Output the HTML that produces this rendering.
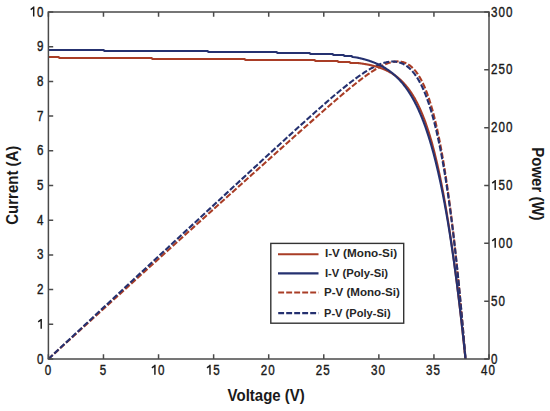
<!DOCTYPE html>
<html><head><meta charset="utf-8"><style>
html,body{margin:0;padding:0;background:#fff;}
svg{display:block;}
text{font-family:"Liberation Sans",sans-serif;}
</style></head><body>
<svg width="550" height="411" viewBox="0 0 550 411">
<rect width="550" height="411" fill="#fff"/>
<g fill="none" stroke-width="2.1" stroke-linejoin="round">
<path d="M48.40,359.00 L53.63,354.23 L58.85,349.46 L64.08,344.69 L69.31,339.93 L74.54,335.16 L79.76,330.40 L84.99,325.64 L90.22,320.88 L95.45,316.13 L100.67,311.37 L105.90,306.62 L111.13,301.87 L116.36,297.12 L121.58,292.37 L126.81,287.63 L132.04,282.88 L137.27,278.14 L142.49,273.40 L147.72,268.66 L152.95,263.93 L158.18,259.19 L163.40,254.46 L168.63,249.73 L173.86,245.00 L179.09,240.27 L184.31,235.55 L189.54,230.83 L194.77,226.10 L200.00,221.38 L205.22,216.67 L210.45,211.95 L215.68,207.24 L220.91,202.53 L226.13,197.82 L231.36,193.11 L236.59,188.40 L241.82,183.70 L247.04,179.00 L252.27,174.30 L257.50,169.60 L262.73,164.91 L267.95,160.22 L273.18,155.53 L278.41,150.84 L283.64,146.16 L288.86,141.49 L294.09,136.82 L299.32,132.15 L304.55,127.50 L309.77,122.86 L315.00,118.23 L320.23,113.62 L325.46,109.04 L330.68,104.48 L335.91,99.97 L341.14,95.50 L346.37,91.11 L351.59,86.81 L356.82,82.63 L357.24,82.30 L357.66,81.97 L358.08,81.64 L358.50,81.32 L358.92,80.99 L359.34,80.67 L359.76,80.34 L360.18,80.02 L360.59,79.70 L361.01,79.38 L361.43,79.06 L361.85,78.75 L362.27,78.43 L362.69,78.12 L363.11,77.80 L363.53,77.49 L363.95,77.18 L364.37,76.87 L364.79,76.57 L365.21,76.26 L365.63,75.96 L366.05,75.66 L366.47,75.35 L366.89,75.06 L367.31,74.76 L367.72,74.46 L368.14,74.17 L368.56,73.88 L368.98,73.59 L369.40,73.30 L369.82,73.01 L370.24,72.73 L370.66,72.44 L371.08,72.16 L371.50,71.88 L371.92,71.61 L372.34,71.33 L372.76,71.06 L373.18,70.79 L373.60,70.53 L374.02,70.26 L374.44,70.00 L374.86,69.74 L375.27,69.48 L375.69,69.23 L376.11,68.97 L376.53,68.72 L376.95,68.48 L377.37,68.23 L377.79,67.99 L378.21,67.76 L378.63,67.52 L379.05,67.29 L379.47,67.06 L379.89,66.83 L380.31,66.61 L380.73,66.39 L381.15,66.18 L381.57,65.97 L381.99,65.76 L382.40,65.55 L382.82,65.35 L383.24,65.16 L383.66,64.96 L384.08,64.77 L384.50,64.59 L384.92,64.41 L385.34,64.23 L385.76,64.06 L386.18,63.89 L386.60,63.73 L387.02,63.57 L387.44,63.41 L387.86,63.27 L388.28,63.12 L388.70,62.98 L389.12,62.85 L389.53,62.72 L389.95,62.59 L390.37,62.48 L390.79,62.36 L391.21,62.26 L391.63,62.16 L392.05,62.06 L392.47,61.97 L392.89,61.89 L393.31,61.81 L393.73,61.74 L394.15,61.68 L394.57,61.62 L394.99,61.57 L395.41,61.53 L395.83,61.49 L396.25,61.46 L396.67,61.44 L397.08,61.43 L397.50,61.42 L397.92,61.42 L398.34,61.43 L398.76,61.45 L399.18,61.48 L399.60,61.51 L400.02,61.56 L400.44,61.61 L400.86,61.67 L401.28,61.74 L401.70,61.82 L402.12,61.91 L402.54,62.01 L402.96,62.12 L403.38,62.24 L403.80,62.37 L404.21,62.51 L404.63,62.66 L405.05,62.82 L405.47,62.99 L405.89,63.18 L406.31,63.38 L406.73,63.58 L407.15,63.80 L407.57,64.04 L407.99,64.28 L408.41,64.54 L408.83,64.81 L409.25,65.09 L409.67,65.39 L410.09,65.70 L410.51,66.03 L410.93,66.37 L411.34,66.72 L411.76,67.09 L412.18,67.47 L412.60,67.87 L413.02,68.29 L413.44,68.72 L413.86,69.16 L414.28,69.63 L414.70,70.11 L415.12,70.60 L415.54,71.12 L415.96,71.65 L416.38,72.20 L416.80,72.77 L417.22,73.35 L417.64,73.96 L418.06,74.58 L418.47,75.22 L418.89,75.89 L419.31,76.57 L419.73,77.27 L420.15,78.00 L420.57,78.74 L420.99,79.51 L421.41,80.30 L421.83,81.11 L422.25,81.95 L422.67,82.80 L423.09,83.68 L423.51,84.59 L423.93,85.51 L424.35,86.46 L424.77,87.44 L425.19,88.44 L425.61,89.47 L426.02,90.52 L426.44,91.60 L426.86,92.70 L427.28,93.84 L427.70,95.00 L428.12,96.18 L428.54,97.40 L428.96,98.64 L429.38,99.91 L429.80,101.22 L430.22,102.55 L430.64,103.91 L431.06,105.30 L431.48,106.72 L431.90,108.18 L432.32,109.66 L432.74,111.18 L433.15,112.73 L433.57,114.32 L433.99,115.93 L434.41,117.58 L434.83,119.27 L435.25,120.98 L435.67,122.74 L436.09,124.53 L436.51,126.35 L436.93,128.21 L437.35,130.11 L437.77,132.04 L438.19,134.01 L438.61,136.02 L439.03,138.07 L439.45,140.16 L439.87,142.28 L440.28,144.44 L440.70,146.65 L441.12,148.89 L441.54,151.17 L441.96,153.50 L442.38,155.86 L442.80,158.27 L443.22,160.72 L443.64,163.21 L444.06,165.75 L444.48,168.33 L444.90,170.95 L445.32,173.61 L445.74,176.32 L446.16,179.08 L446.58,181.87 L447.00,184.72 L447.41,187.61 L447.83,190.54 L448.25,193.52 L448.67,196.55 L449.09,199.63 L449.51,202.75 L449.93,205.92 L450.35,209.14 L450.77,212.40 L451.19,215.72 L451.61,219.08 L452.03,222.49 L452.45,225.95 L452.87,229.46 L453.29,233.02 L453.71,236.63 L454.13,240.30 L454.55,244.01 L454.96,247.77 L455.38,251.59 L455.80,255.45 L456.22,259.37 L456.64,263.34 L457.06,267.36 L457.48,271.43 L457.90,275.56 L458.32,279.73 L458.74,283.97 L459.16,288.25 L459.58,292.59 L460.00,296.98 L460.42,301.42 L460.84,305.92 L461.26,310.48 L461.68,315.08 L462.09,319.74 L462.51,324.46 L462.93,329.23 L463.35,334.05 L463.77,338.93 L464.19,343.87 L464.61,348.86 L465.03,353.90 L465.45,359.00" stroke="#a93d26" stroke-dasharray="5.9,2.1"/>
<path d="M48.40,359.00 L53.63,354.11 L58.85,349.22 L64.08,344.34 L69.31,339.45 L74.54,334.57 L79.76,329.69 L84.99,324.81 L90.22,319.93 L95.45,315.05 L100.67,310.18 L105.90,305.30 L111.13,300.43 L116.36,295.56 L121.58,290.69 L126.81,285.82 L132.04,280.95 L137.27,276.09 L142.49,271.23 L147.72,266.36 L152.95,261.50 L158.18,256.64 L163.40,251.79 L168.63,246.93 L173.86,242.08 L179.09,237.22 L184.31,232.37 L189.54,227.52 L194.77,222.68 L200.00,217.83 L205.22,212.99 L210.45,208.14 L215.68,203.30 L220.91,198.46 L226.13,193.63 L231.36,188.79 L236.59,183.96 L241.82,179.13 L247.04,174.31 L252.27,169.48 L257.50,164.66 L262.73,159.85 L267.95,155.04 L273.18,150.24 L278.41,145.44 L283.64,140.66 L288.86,135.88 L294.09,131.12 L299.32,126.38 L304.55,121.66 L309.77,116.96 L315.00,112.29 L320.23,107.67 L325.46,103.09 L330.68,98.58 L335.91,94.14 L341.14,89.80 L346.37,85.59 L351.59,81.52 L356.82,77.64 L357.24,77.34 L357.66,77.04 L358.08,76.74 L358.50,76.44 L358.92,76.15 L359.34,75.85 L359.76,75.56 L360.18,75.27 L360.60,74.98 L361.02,74.69 L361.44,74.41 L361.86,74.13 L362.28,73.84 L362.70,73.57 L363.12,73.29 L363.54,73.01 L363.96,72.74 L364.38,72.47 L364.79,72.20 L365.21,71.93 L365.63,71.66 L366.05,71.40 L366.47,71.14 L366.89,70.88 L367.31,70.63 L367.73,70.37 L368.15,70.12 L368.57,69.87 L368.99,69.63 L369.41,69.38 L369.83,69.14 L370.25,68.90 L370.67,68.67 L371.09,68.43 L371.51,68.20 L371.93,67.97 L372.35,67.75 L372.77,67.53 L373.19,67.31 L373.61,67.09 L374.03,66.88 L374.45,66.67 L374.87,66.46 L375.29,66.26 L375.71,66.06 L376.13,65.86 L376.55,65.67 L376.97,65.48 L377.39,65.29 L377.81,65.11 L378.23,64.93 L378.65,64.75 L379.07,64.58 L379.49,64.42 L379.91,64.25 L380.32,64.09 L380.74,63.94 L381.16,63.78 L381.58,63.64 L382.00,63.49 L382.42,63.36 L382.84,63.22 L383.26,63.09 L383.68,62.97 L384.10,62.85 L384.52,62.73 L384.94,62.62 L385.36,62.51 L385.78,62.41 L386.20,62.32 L386.62,62.22 L387.04,62.14 L387.46,62.06 L387.88,61.98 L388.30,61.92 L388.72,61.85 L389.14,61.79 L389.56,61.74 L389.98,61.70 L390.40,61.66 L390.82,61.62 L391.24,61.60 L391.66,61.57 L392.08,61.56 L392.50,61.55 L392.92,61.55 L393.34,61.55 L393.76,61.57 L394.18,61.59 L394.60,61.61 L395.02,61.65 L395.44,61.69 L395.85,61.74 L396.27,61.79 L396.69,61.86 L397.11,61.93 L397.53,62.01 L397.95,62.10 L398.37,62.19 L398.79,62.30 L399.21,62.41 L399.63,62.54 L400.05,62.67 L400.47,62.81 L400.89,62.96 L401.31,63.12 L401.73,63.28 L402.15,63.46 L402.57,63.65 L402.99,63.85 L403.41,64.06 L403.83,64.27 L404.25,64.50 L404.67,64.74 L405.09,64.99 L405.51,65.26 L405.93,65.53 L406.35,65.81 L406.77,66.11 L407.19,66.41 L407.61,66.73 L408.03,67.07 L408.45,67.41 L408.87,67.77 L409.29,68.13 L409.71,68.52 L410.13,68.91 L410.55,69.32 L410.97,69.74 L411.38,70.18 L411.80,70.63 L412.22,71.09 L412.64,71.57 L413.06,72.06 L413.48,72.57 L413.90,73.09 L414.32,73.63 L414.74,74.19 L415.16,74.76 L415.58,75.34 L416.00,75.95 L416.42,76.56 L416.84,77.20 L417.26,77.85 L417.68,78.52 L418.10,79.21 L418.52,79.92 L418.94,80.64 L419.36,81.39 L419.78,82.15 L420.20,82.93 L420.62,83.73 L421.04,84.55 L421.46,85.39 L421.88,86.25 L422.30,87.13 L422.72,88.03 L423.14,88.95 L423.56,89.89 L423.98,90.86 L424.40,91.84 L424.82,92.85 L425.24,93.89 L425.66,94.94 L426.08,96.02 L426.50,97.12 L426.91,98.25 L427.33,99.40 L427.75,100.57 L428.17,101.78 L428.59,103.00 L429.01,104.25 L429.43,105.53 L429.85,106.83 L430.27,108.17 L430.69,109.52 L431.11,110.91 L431.53,112.32 L431.95,113.76 L432.37,115.24 L432.79,116.74 L433.21,118.26 L433.63,119.82 L434.05,121.41 L434.47,123.03 L434.89,124.68 L435.31,126.37 L435.73,128.08 L436.15,129.83 L436.57,131.61 L436.99,133.42 L437.41,135.27 L437.83,137.15 L438.25,139.06 L438.67,141.01 L439.09,142.99 L439.51,145.01 L439.93,147.07 L440.35,149.16 L440.77,151.29 L441.19,153.46 L441.61,155.66 L442.03,157.91 L442.44,160.19 L442.86,162.51 L443.28,164.87 L443.70,167.27 L444.12,169.71 L444.54,172.19 L444.96,174.72 L445.38,177.28 L445.80,179.89 L446.22,182.54 L446.64,185.24 L447.06,187.98 L447.48,190.76 L447.90,193.59 L448.32,196.46 L448.74,199.38 L449.16,202.34 L449.58,205.35 L450.00,208.41 L450.42,211.51 L450.84,214.67 L451.26,217.87 L451.68,221.12 L452.10,224.42 L452.52,227.77 L452.94,231.17 L453.36,234.62 L453.78,238.13 L454.20,241.68 L454.62,245.29 L455.04,248.95 L455.46,252.66 L455.88,256.43 L456.30,260.25 L456.72,264.13 L457.14,268.06 L457.56,272.05 L457.97,276.09 L458.39,280.19 L458.81,284.35 L459.23,288.56 L459.65,292.84 L460.07,297.17 L460.49,301.56 L460.91,306.01 L461.33,310.52 L461.75,315.09 L462.17,319.72 L462.59,324.41 L463.01,329.16 L463.43,333.98 L463.85,338.85 L464.27,343.80 L464.69,348.80 L465.11,353.87 L465.53,359.00" stroke="#253170" stroke-dasharray="5.9,2.1"/>
<path d="M48.40,57.00 L58.20,57.00 L59.80,58.00 L151.20,58.00 L152.80,59.00 L244.20,59.00 L245.80,60.00 L314.20,60.00 L315.80,61.00 L337.20,61.00 L338.80,62.00 L349.20,62.00 L350.80,63.00 L358.08,63.04 L358.50,63.09 L358.92,63.14 L359.34,63.20 L359.76,63.25 L360.18,63.31 L360.59,63.37 L361.01,63.43 L361.43,63.49 L361.85,63.55 L362.27,63.61 L362.69,63.68 L363.11,63.74 L363.53,63.81 L363.95,63.88 L364.37,63.94 L364.79,64.02 L365.21,64.09 L365.63,64.16 L366.05,64.24 L366.47,64.31 L366.89,64.39 L367.31,64.47 L367.72,64.55 L368.14,64.63 L368.56,64.72 L368.98,64.80 L369.40,64.89 L369.82,64.98 L370.24,65.07 L370.66,65.16 L371.08,65.26 L371.50,65.35 L371.92,65.45 L372.34,65.55 L372.76,65.65 L373.18,65.76 L373.60,65.87 L374.02,65.97 L374.44,66.09 L374.86,66.20 L375.27,66.31 L375.69,66.43 L376.11,66.55 L376.53,66.67 L376.95,66.80 L377.37,66.93 L377.79,67.06 L378.21,67.19 L378.63,67.33 L379.05,67.46 L379.47,67.61 L379.89,67.75 L380.31,67.90 L380.73,68.05 L381.15,68.20 L381.57,68.35 L381.99,68.51 L382.40,68.68 L382.82,68.84 L383.24,69.01 L383.66,69.18 L384.08,69.36 L384.50,69.54 L384.92,69.72 L385.34,69.91 L385.76,70.10 L386.18,70.29 L386.60,70.49 L387.02,70.69 L387.44,70.90 L387.86,71.11 L388.28,71.33 L388.70,71.55 L389.12,71.77 L389.53,72.00 L389.95,72.23 L390.37,72.47 L390.79,72.71 L391.21,72.96 L391.63,73.21 L392.05,73.47 L392.47,73.73 L392.89,74.00 L393.31,74.27 L393.73,74.55 L394.15,74.83 L394.57,75.12 L394.99,75.42 L395.41,75.72 L395.83,76.03 L396.25,76.34 L396.67,76.66 L397.08,76.99 L397.50,77.32 L397.92,77.66 L398.34,78.01 L398.76,78.36 L399.18,78.72 L399.60,79.09 L400.02,79.46 L400.44,79.85 L400.86,80.24 L401.28,80.63 L401.70,81.04 L402.12,81.45 L402.54,81.87 L402.96,82.30 L403.38,82.74 L403.80,83.19 L404.21,83.64 L404.63,84.11 L405.05,84.58 L405.47,85.06 L405.89,85.56 L406.31,86.06 L406.73,86.57 L407.15,87.09 L407.57,87.62 L407.99,88.16 L408.41,88.72 L408.83,89.28 L409.25,89.85 L409.67,90.44 L410.09,91.03 L410.51,91.64 L410.93,92.26 L411.34,92.89 L411.76,93.53 L412.18,94.19 L412.60,94.85 L413.02,95.53 L413.44,96.22 L413.86,96.93 L414.28,97.65 L414.70,98.38 L415.12,99.13 L415.54,99.89 L415.96,100.66 L416.38,101.45 L416.80,102.25 L417.22,103.07 L417.64,103.90 L418.06,104.75 L418.47,105.61 L418.89,106.49 L419.31,107.38 L419.73,108.29 L420.15,109.22 L420.57,110.16 L420.99,111.12 L421.41,112.10 L421.83,113.10 L422.25,114.11 L422.67,115.14 L423.09,116.19 L423.51,117.26 L423.93,118.34 L424.35,119.45 L424.77,120.57 L425.19,121.71 L425.61,122.88 L426.02,124.06 L426.44,125.26 L426.86,126.49 L427.28,127.73 L427.70,129.00 L428.12,130.29 L428.54,131.59 L428.96,132.93 L429.38,134.28 L429.80,135.65 L430.22,137.05 L430.64,138.47 L431.06,139.91 L431.48,141.38 L431.90,142.87 L432.32,144.39 L432.74,145.93 L433.15,147.49 L433.57,149.08 L433.99,150.69 L434.41,152.33 L434.83,154.00 L435.25,155.69 L435.67,157.40 L436.09,159.15 L436.51,160.91 L436.93,162.71 L437.35,164.53 L437.77,166.39 L438.19,168.26 L438.61,170.17 L439.03,172.10 L439.45,174.07 L439.87,176.06 L440.28,178.08 L440.70,180.13 L441.12,182.21 L441.54,184.32 L441.96,186.45 L442.38,188.62 L442.80,190.82 L443.22,193.05 L443.64,195.31 L444.06,197.60 L444.48,199.92 L444.90,202.27 L445.32,204.66 L445.74,207.07 L446.16,209.52 L446.58,212.00 L447.00,214.51 L447.41,217.06 L447.83,219.64 L448.25,222.25 L448.67,224.89 L449.09,227.57 L449.51,230.28 L449.93,233.02 L450.35,235.79 L450.77,238.61 L451.19,241.45 L451.61,244.33 L452.03,247.24 L452.45,250.19 L452.87,253.17 L453.29,256.18 L453.71,259.23 L454.13,262.32 L454.55,265.44 L454.96,268.59 L455.38,271.78 L455.80,275.01 L456.22,278.27 L456.64,281.57 L457.06,284.90 L457.48,288.26 L457.90,291.66 L458.32,295.10 L458.74,298.57 L459.16,302.08 L459.58,305.63 L460.00,309.21 L460.42,312.82 L460.84,316.47 L461.26,320.16 L461.68,323.88 L462.09,327.64 L462.51,331.44 L462.93,335.27 L463.35,339.13 L463.77,343.04 L464.19,346.97 L464.61,350.95 L465.03,354.96 L465.45,359.00" stroke="#a93d26"/>
<path d="M48.40,50.00 L103.20,50.00 L104.80,51.00 L207.20,51.00 L208.80,52.00 L276.20,52.00 L277.80,53.00 L309.20,53.00 L310.80,54.00 L332.20,54.00 L333.80,55.00 L343.20,55.00 L344.80,56.00 L351.20,56.00 L352.80,57.00 L356.82,57.54 L357.24,57.63 L357.66,57.72 L358.08,57.81 L358.50,57.90 L358.92,57.99 L359.34,58.09 L359.76,58.18 L360.18,58.28 L360.60,58.38 L361.02,58.48 L361.44,58.58 L361.86,58.68 L362.28,58.79 L362.70,58.89 L363.12,59.00 L363.54,59.11 L363.96,59.23 L364.38,59.34 L364.79,59.46 L365.21,59.57 L365.63,59.69 L366.05,59.82 L366.47,59.94 L366.89,60.07 L367.31,60.19 L367.73,60.32 L368.15,60.46 L368.57,60.59 L368.99,60.73 L369.41,60.87 L369.83,61.01 L370.25,61.15 L370.67,61.30 L371.09,61.44 L371.51,61.60 L371.93,61.75 L372.35,61.90 L372.77,62.06 L373.19,62.22 L373.61,62.39 L374.03,62.55 L374.45,62.72 L374.87,62.89 L375.29,63.07 L375.71,63.25 L376.13,63.43 L376.55,63.61 L376.97,63.80 L377.39,63.99 L377.81,64.18 L378.23,64.37 L378.65,64.57 L379.07,64.78 L379.49,64.98 L379.91,65.19 L380.32,65.40 L380.74,65.62 L381.16,65.84 L381.58,66.06 L382.00,66.29 L382.42,66.52 L382.84,66.75 L383.26,66.99 L383.68,67.23 L384.10,67.48 L384.52,67.73 L384.94,67.98 L385.36,68.24 L385.78,68.50 L386.20,68.77 L386.62,69.04 L387.04,69.32 L387.46,69.60 L387.88,69.89 L388.30,70.17 L388.72,70.47 L389.14,70.77 L389.56,71.07 L389.98,71.38 L390.40,71.70 L390.82,72.02 L391.24,72.34 L391.66,72.67 L392.08,73.01 L392.50,73.35 L392.92,73.69 L393.34,74.05 L393.76,74.40 L394.18,74.77 L394.60,75.14 L395.02,75.51 L395.44,75.90 L395.85,76.29 L396.27,76.68 L396.69,77.08 L397.11,77.49 L397.53,77.90 L397.95,78.32 L398.37,78.75 L398.79,79.19 L399.21,79.63 L399.63,80.08 L400.05,80.53 L400.47,81.00 L400.89,81.47 L401.31,81.95 L401.73,82.43 L402.15,82.93 L402.57,83.43 L402.99,83.94 L403.41,84.46 L403.83,84.99 L404.25,85.52 L404.67,86.07 L405.09,86.62 L405.51,87.18 L405.93,87.75 L406.35,88.33 L406.77,88.92 L407.19,89.52 L407.61,90.13 L408.03,90.75 L408.45,91.38 L408.87,92.02 L409.29,92.66 L409.71,93.32 L410.13,93.99 L410.55,94.67 L410.97,95.36 L411.38,96.06 L411.80,96.78 L412.22,97.50 L412.64,98.24 L413.06,98.98 L413.48,99.74 L413.90,100.51 L414.32,101.30 L414.74,102.09 L415.16,102.90 L415.58,103.72 L416.00,104.55 L416.42,105.40 L416.84,106.26 L417.26,107.13 L417.68,108.02 L418.10,108.92 L418.52,109.83 L418.94,110.76 L419.36,111.70 L419.78,112.66 L420.20,113.63 L420.62,114.62 L421.04,115.62 L421.46,116.64 L421.88,117.67 L422.30,118.72 L422.72,119.78 L423.14,120.86 L423.56,121.96 L423.98,123.08 L424.40,124.21 L424.82,125.35 L425.24,126.52 L425.66,127.70 L426.08,128.90 L426.50,130.12 L426.91,131.36 L427.33,132.62 L427.75,133.89 L428.17,135.18 L428.59,136.50 L429.01,137.83 L429.43,139.18 L429.85,140.55 L430.27,141.94 L430.69,143.35 L431.11,144.79 L431.53,146.24 L431.95,147.72 L432.37,149.21 L432.79,150.73 L433.21,152.27 L433.63,153.84 L434.05,155.42 L434.47,157.03 L434.89,158.66 L435.31,160.31 L435.73,161.99 L436.15,163.69 L436.57,165.42 L436.99,167.17 L437.41,168.95 L437.83,170.75 L438.25,172.57 L438.67,174.42 L439.09,176.30 L439.51,178.20 L439.93,180.13 L440.35,182.09 L440.77,184.07 L441.19,186.08 L441.61,188.12 L442.03,190.18 L442.44,192.27 L442.86,194.40 L443.28,196.55 L443.70,198.73 L444.12,200.93 L444.54,203.17 L444.96,205.44 L445.38,207.74 L445.80,210.07 L446.22,212.43 L446.64,214.82 L447.06,217.24 L447.48,219.69 L447.90,222.18 L448.32,224.69 L448.74,227.24 L449.16,229.82 L449.58,232.44 L450.00,235.09 L450.42,237.77 L450.84,240.49 L451.26,243.24 L451.68,246.02 L452.10,248.84 L452.52,251.69 L452.94,254.58 L453.36,257.51 L453.78,260.47 L454.20,263.47 L454.62,266.50 L455.04,269.57 L455.46,272.68 L455.88,275.82 L456.30,279.00 L456.72,282.22 L457.14,285.48 L457.56,288.77 L457.97,292.11 L458.39,295.48 L458.81,298.89 L459.23,302.35 L459.65,305.84 L460.07,309.37 L460.49,312.94 L460.91,316.55 L461.33,320.20 L461.75,323.89 L462.17,327.63 L462.59,331.40 L463.01,335.22 L463.43,339.08 L463.85,342.98 L464.27,346.92 L464.69,350.90 L465.11,354.93 L465.53,359.00" stroke="#253170"/>
</g>
<g fill="none" stroke="#4a4a4a" stroke-width="1.5">
<rect x="48.4" y="12.0" width="440.60" height="347.0"/>
<path d="M48.40,359.0V354.2M48.40,12.0V16.8M103.47,359.0V354.2M103.47,12.0V16.8M158.55,359.0V354.2M158.55,12.0V16.8M213.63,359.0V354.2M213.63,12.0V16.8M268.70,359.0V354.2M268.70,12.0V16.8M323.77,359.0V354.2M323.77,12.0V16.8M378.85,359.0V354.2M378.85,12.0V16.8M433.93,359.0V354.2M433.93,12.0V16.8M489.00,359.0V354.2M489.00,12.0V16.8M48.4,359.00H53.199999999999996M48.4,324.30H53.199999999999996M48.4,289.60H53.199999999999996M48.4,254.90H53.199999999999996M48.4,220.20H53.199999999999996M48.4,185.50H53.199999999999996M48.4,150.80H53.199999999999996M48.4,116.10H53.199999999999996M48.4,81.40H53.199999999999996M48.4,46.70H53.199999999999996M48.4,12.00H53.199999999999996M489.0,359.00H484.2M489.0,301.17H484.2M489.0,243.33H484.2M489.0,185.50H484.2M489.0,127.67H484.2M489.0,69.83H484.2M489.0,12.00H484.2"/>
</g>
<g font-size="14.3" fill="#1a1a1a" stroke="#1a1a1a" stroke-width="0.4"><text transform="translate(40.10,363.50) scale(0.81,1)" text-anchor="middle">0</text><text transform="translate(40.10,294.10) scale(0.81,1)" text-anchor="middle">2</text><text transform="translate(40.10,259.40) scale(0.81,1)" text-anchor="middle">3</text><text transform="translate(40.10,224.70) scale(0.81,1)" text-anchor="middle">4</text><text transform="translate(40.10,190.00) scale(0.81,1)" text-anchor="middle">5</text><text transform="translate(40.10,155.30) scale(0.81,1)" text-anchor="middle">6</text><text transform="translate(40.10,120.60) scale(0.81,1)" text-anchor="middle">7</text><text transform="translate(40.10,85.90) scale(0.81,1)" text-anchor="middle">8</text><text transform="translate(40.10,51.20) scale(0.81,1)" text-anchor="middle">9</text><text transform="translate(40.10,16.50) scale(0.81,1)" text-anchor="middle">0</text><text transform="translate(48.00,374.70) scale(0.81,1)" text-anchor="middle">0</text><text transform="translate(103.07,374.70) scale(0.81,1)" text-anchor="middle">5</text><text transform="translate(161.30,374.70) scale(0.81,1)" text-anchor="middle">0</text><text transform="translate(216.38,374.70) scale(0.81,1)" text-anchor="middle">5</text><text transform="translate(263.95,374.70) scale(0.81,1)" text-anchor="middle">2</text><text transform="translate(271.45,374.70) scale(0.81,1)" text-anchor="middle">0</text><text transform="translate(319.02,374.70) scale(0.81,1)" text-anchor="middle">2</text><text transform="translate(326.52,374.70) scale(0.81,1)" text-anchor="middle">5</text><text transform="translate(374.10,374.70) scale(0.81,1)" text-anchor="middle">3</text><text transform="translate(381.60,374.70) scale(0.81,1)" text-anchor="middle">0</text><text transform="translate(429.18,374.70) scale(0.81,1)" text-anchor="middle">3</text><text transform="translate(436.68,374.70) scale(0.81,1)" text-anchor="middle">5</text><text transform="translate(484.25,374.70) scale(0.81,1)" text-anchor="middle">4</text><text transform="translate(491.75,374.70) scale(0.81,1)" text-anchor="middle">0</text><text transform="translate(494.10,363.50) scale(0.81,1)" text-anchor="middle">0</text><text transform="translate(494.10,305.67) scale(0.81,1)" text-anchor="middle">5</text><text transform="translate(501.60,305.67) scale(0.81,1)" text-anchor="middle">0</text><text transform="translate(501.60,247.83) scale(0.81,1)" text-anchor="middle">0</text><text transform="translate(509.10,247.83) scale(0.81,1)" text-anchor="middle">0</text><text transform="translate(501.60,190.00) scale(0.81,1)" text-anchor="middle">5</text><text transform="translate(509.10,190.00) scale(0.81,1)" text-anchor="middle">0</text><text transform="translate(494.10,132.17) scale(0.81,1)" text-anchor="middle">2</text><text transform="translate(501.60,132.17) scale(0.81,1)" text-anchor="middle">0</text><text transform="translate(509.10,132.17) scale(0.81,1)" text-anchor="middle">0</text><text transform="translate(494.10,74.33) scale(0.81,1)" text-anchor="middle">2</text><text transform="translate(501.60,74.33) scale(0.81,1)" text-anchor="middle">5</text><text transform="translate(509.10,74.33) scale(0.81,1)" text-anchor="middle">0</text><text transform="translate(494.10,16.50) scale(0.81,1)" text-anchor="middle">3</text><text transform="translate(501.60,16.50) scale(0.81,1)" text-anchor="middle">0</text><text transform="translate(509.10,16.50) scale(0.81,1)" text-anchor="middle">0</text></g>
<path d="M41.20,328.80V318.90M41.50,319.40L38.20,321.90M33.70,16.50V6.60M34.00,7.10L30.70,9.60M154.90,374.70V364.80M155.20,365.30L151.90,367.80M209.98,374.70V364.80M210.28,365.30L206.98,367.80M495.20,247.83V237.93M495.50,238.43L492.20,240.93M495.20,190.00V180.10M495.50,180.60L492.20,183.10" stroke="#1a1a1a" stroke-width="1.45" fill="none"/>
<g font-size="16.4" font-weight="bold" fill="#1a1a1a">
<text transform="translate(266.2,400.6) scale(0.915,1)" text-anchor="middle">Voltage (V)</text>
<text transform="translate(17.5,185.2) rotate(-90) scale(0.915,1)" text-anchor="middle">Current (A)</text>
<text transform="translate(532.2,183.9) rotate(90) scale(0.915,1)" text-anchor="middle">Power (W)</text>
</g>
<g>
<rect x="270.8" y="243.4" width="132.9" height="79.8" fill="#fff" stroke="#333" stroke-width="1.4"/>
<g stroke-width="2.1" fill="none">
<path d="M278,254.2H318.5" stroke="#a93d26"/>
<path d="M278,273.4H318.5" stroke="#253170"/>
<path d="M278.2,292.5H318.5" stroke="#a93d26" stroke-dasharray="5.9,2.1"/>
<path d="M278.2,313.1H318.5" stroke="#253170" stroke-dasharray="5.9,2.1"/>
</g>
<g font-size="11.8" font-weight="bold" fill="#262626">
<text x="324.9" y="257.2" textLength="72.2" lengthAdjust="spacingAndGlyphs">I-V (Mono-Si)</text>
<text x="324.9" y="276.9" textLength="63.2" lengthAdjust="spacingAndGlyphs">I-V (Poly-Si)</text>
<text x="324.0" y="296.2" textLength="75.8" lengthAdjust="spacingAndGlyphs">P-V (Mono-Si)</text>
<text x="324.0" y="316.8" textLength="66.6" lengthAdjust="spacingAndGlyphs">P-V (Poly-Si)</text>
</g>
</g>
</svg>
</body></html>
